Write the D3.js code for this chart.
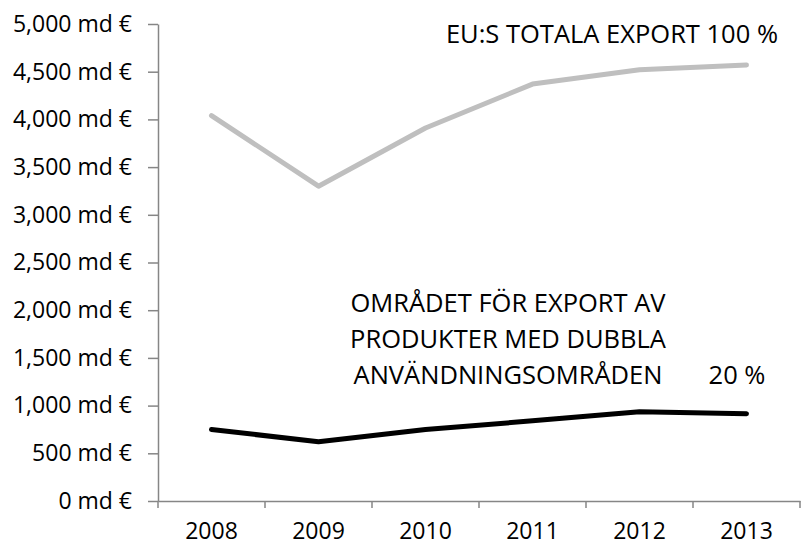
<html>
<head>
<meta charset="utf-8">
<style>
  body { margin: 0; padding: 0; background: white; font-family: "Open Sans", sans-serif; }
  .axis path, .axis line { stroke: #868686; stroke-width: 1.5; }
  .axis text { font-size: 23px; fill: #000; font-family: "Open Sans", sans-serif; }
  .note { font-size: 25.5px; fill: #000; }
</style>
</head>
<body>
<div id="chart"></div>
<script src="https://d3js.org/d3.v7.min.js"></script>
<script>
var years = ["2008", "2009", "2010", "2011", "2012", "2013"];
var totalExport = [4040, 3300, 3910, 4370, 4520, 4570];
var dualUseExport = [750, 620, 750, 840, 935, 915];
var yTicks = [0, 500, 1000, 1500, 2000, 2500, 3000, 3500, 4000, 4500, 5000];

var width = 801, height = 547;
var margin = { top: 24, right: 1, bottom: 46, left: 158 };

var svg = d3.select("#chart").append("svg")
    .attr("width", width)
    .attr("height", height);

var x = d3.scaleBand()
    .domain(years)
    .range([margin.left, width - margin.right]);

var y = d3.scaleLinear()
    .domain([0, 5000])
    .range([height - margin.bottom, margin.top]);

// y axis
svg.append("g")
    .attr("class", "axis")
    .attr("transform", "translate(" + margin.left + ",0)")
    .call(d3.axisLeft(y)
        .tickValues(yTicks)
        .tickSize(10)
        .tickSizeOuter(0)
        .tickPadding(16)
        .tickFormat(function (d) { return d3.format(",")(d) + " md €"; }));

// x axis, ticks between categories
var xAxis = svg.append("g")
    .attr("class", "axis")
    .attr("transform", "translate(0," + y(0) + ")")
    .call(d3.axisBottom(x).tickSize(0).tickSizeOuter(0).tickPadding(22));

xAxis.selectAll(".sep")
    .data(years.concat(["end"]))
    .enter()
    .append("line")
    .attr("class", "sep")
    .attr("x1", function (d, i) { return margin.left + i * x.step(); })
    .attr("x2", function (d, i) { return margin.left + i * x.step(); })
    .attr("y1", 0)
    .attr("y2", 7)
    .attr("stroke", "#868686")
    .attr("stroke-width", 1.5);

var line = d3.line()
    .x(function (d, i) { return x(years[i]) + x.bandwidth() / 2; })
    .y(function (d) { return y(d); });

svg.append("path")
    .datum(totalExport)
    .attr("d", line)
    .attr("fill", "none")
    .attr("stroke", "#bfbfbf")
    .attr("stroke-width", 5)
    .attr("stroke-linecap", "round")
    .attr("stroke-linejoin", "round");

svg.append("path")
    .datum(dualUseExport)
    .attr("d", line)
    .attr("fill", "none")
    .attr("stroke", "#000")
    .attr("stroke-width", 5)
    .attr("stroke-linecap", "round")
    .attr("stroke-linejoin", "round");

// annotations
svg.append("text")
    .attr("class", "note")
    .attr("x", 778)
    .attr("y", 43)
    .attr("text-anchor", "end")
    .text("EU:S TOTALA EXPORT 100 %");

var noteLines = ["OMRÅDET FÖR EXPORT AV", "PRODUKTER MED DUBBLA", "ANVÄNDNINGSOMRÅDEN"];
svg.append("g")
    .selectAll("text")
    .data(noteLines)
    .enter()
    .append("text")
    .attr("class", "note")
    .attr("x", 508)
    .attr("y", function (d, i) { return 312 + i * 36; })
    .attr("text-anchor", "middle")
    .text(function (d) { return d; });

svg.append("text")
    .attr("class", "note")
    .attr("x", 737)
    .attr("y", 384)
    .attr("text-anchor", "middle")
    .text("20 %");
</script>
</body>
</html>
